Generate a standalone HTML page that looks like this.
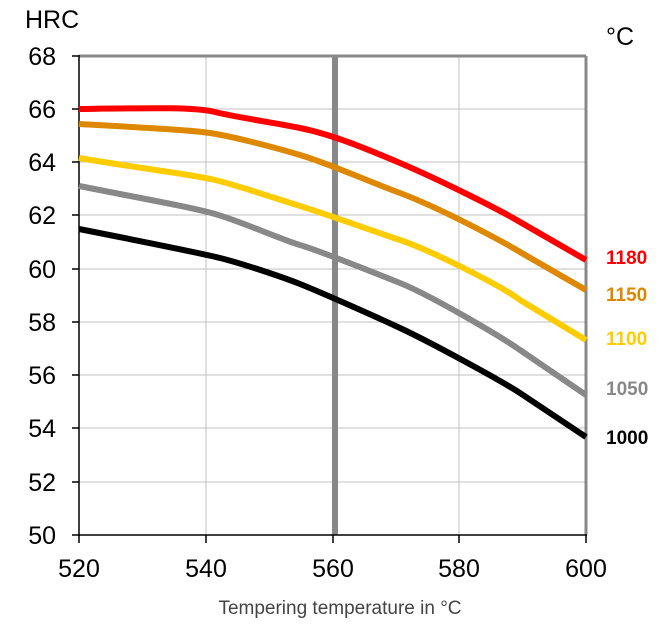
<!DOCTYPE html>
<html><head><style>body{margin:0;background:#fff}</style></head><body>
<svg width="661" height="625" xmlns="http://www.w3.org/2000/svg" font-family="Liberation Sans, Arial, sans-serif">
<g stroke="#c0c0c0" stroke-width="1">
<line x1="206" y1="56" x2="206" y2="535"/><line x1="459" y1="56" x2="459" y2="535"/>
<line x1="79" y1="109" x2="586" y2="109"/><line x1="79" y1="162" x2="586" y2="162"/>
<line x1="79" y1="215" x2="586" y2="215"/><line x1="79" y1="269" x2="586" y2="269"/>
<line x1="79" y1="322" x2="586" y2="322"/><line x1="79" y1="375" x2="586" y2="375"/>
<line x1="79" y1="428" x2="586" y2="428"/><line x1="79" y1="482" x2="586" y2="482"/>
</g>
<line x1="79" y1="56" x2="586" y2="56" stroke="#888" stroke-width="3"/>
<line x1="586" y1="56" x2="586" y2="535" stroke="#888" stroke-width="3"/>
<line x1="335" y1="56" x2="335" y2="535" stroke="#888" stroke-width="6"/>
<g stroke="#000" stroke-width="1.5">
<line x1="79" y1="55" x2="79" y2="536"/><line x1="78" y1="535" x2="587" y2="535"/>
<line x1="72" y1="56" x2="79" y2="56"/><line x1="72" y1="109" x2="79" y2="109"/><line x1="72" y1="162" x2="79" y2="162"/><line x1="72" y1="215" x2="79" y2="215"/><line x1="72" y1="269" x2="79" y2="269"/><line x1="72" y1="322" x2="79" y2="322"/><line x1="72" y1="375" x2="79" y2="375"/><line x1="72" y1="428" x2="79" y2="428"/><line x1="72" y1="482" x2="79" y2="482"/><line x1="72" y1="535" x2="79" y2="535"/>
<line x1="79" y1="535" x2="79" y2="543"/><line x1="206" y1="535" x2="206" y2="543"/><line x1="333" y1="535" x2="333" y2="543"/><line x1="459" y1="535" x2="459" y2="543"/><line x1="586" y1="535" x2="586" y2="543"/>
</g>
<g fill="none" stroke-width="6" stroke-linejoin="round">
<path stroke="#ff0000" d="M79,109 C150,108 195,107 215,112 S270,122 300,128 S360,146 400,163 S500,210 520,222 L586,260"/>
<path stroke="#dd8800" d="M79,124 C150,128 190,130 210,133 S270,146 300,155 S360,178 400,193 S500,240 520,252 L586,290"/>
<path stroke="#ffcc00" d="M79,158 C150,170 190,174 215,180 S280,200 300,206 S370,230 400,240 S500,285 520,300 L586,340"/>
<path stroke="#888888" d="M79,186 C150,200 190,207 215,214 S280,239 300,245 S370,271 400,283 S500,336 520,350 L586,395"/>
<path stroke="#000000" d="M79,229 C150,243 200,253 220,258 S280,276 300,284 S370,314 400,328 S500,380 520,393 L586,437"/>
</g>
<g font-size="25" fill="#000">
<text x="25" y="28">HRC</text>
<text x="606" y="45">°C</text>
<g text-anchor="end"><text x="56" y="65">68</text><text x="56" y="118">66</text><text x="56" y="171">64</text><text x="56" y="224">62</text><text x="56" y="278">60</text><text x="56" y="331">58</text><text x="56" y="384">56</text><text x="56" y="437">54</text><text x="56" y="491">52</text><text x="56" y="544">50</text></g>
<g text-anchor="middle"><text x="79" y="577">520</text><text x="206" y="577">540</text><text x="333" y="577">560</text><text x="459" y="577">580</text><text x="586" y="577">600</text></g>
</g>
<text x="340" y="614" font-size="19" fill="#444" text-anchor="middle">Tempering temperature in °C</text>
<g font-size="19" font-weight="bold">
<text x="606" y="264" fill="#ff0000">1180</text>
<text x="606" y="301" fill="#dd8800">1150</text>
<text x="606" y="345" fill="#ffcc00">1100</text>
<text x="606" y="395" fill="#888">1050</text>
<text x="606" y="444" fill="#000">1000</text>
</g>
</svg>
</body></html>
